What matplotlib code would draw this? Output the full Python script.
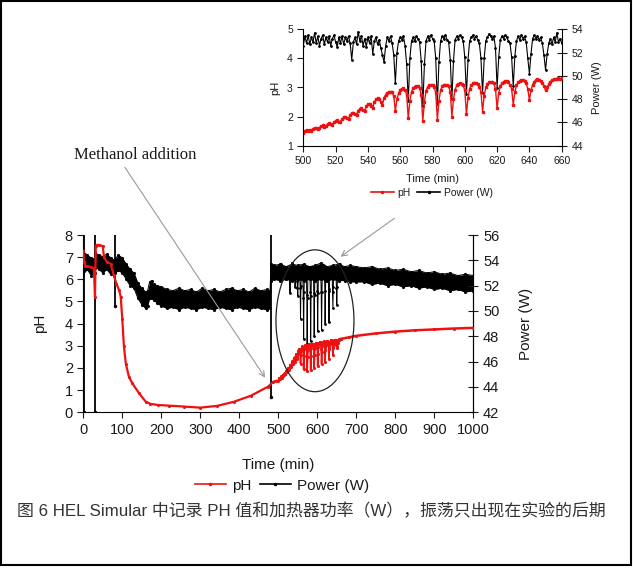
import numpy as np
import matplotlib
matplotlib.use('Agg')
import matplotlib.pyplot as plt
from matplotlib.patches import Ellipse, Rectangle
from matplotlib.lines import Line2D

plt.rcParams['font.family'] = ['Liberation Sans', 'Noto Sans CJK SC', 'DejaVu Sans']

W, H = 633, 568

# ---- whole run: pH (min, pH) ----
ph_t_early = [0, 2, 5, 10, 20, 27, 30, 32, 34, 40, 50, 53, 60, 70, 78, 85, 92, 96,
              100, 104, 109, 117, 126, 143, 160, 172, 192, 220, 257, 300, 343, 387,
              430, 474, 487, 495]
ph_early = [7.3, 6.8, 6.6, 6.6, 6.55, 6.5, 5.2, 7.5, 7.55, 7.55, 7.5, 7.0, 6.8, 6.7,
            6.2, 5.8, 5.5, 5.2, 4.2, 3.0, 2.2, 1.6, 1.3, 0.86, 0.48, 0.38, 0.33, 0.3,
            0.26, 0.21, 0.29, 0.48, 0.75, 1.16, 1.38, 1.42]
ph_t_late = [660, 680, 700, 750, 800, 850, 900, 950, 1000]
ph_late = [3.31, 3.38, 3.45, 3.56, 3.64, 3.7, 3.74, 3.78, 3.81]

# ---- whole run: heater power, min / max of the noisy trace (W) ----
band_t = [0, 10, 20, 29, 31, 40, 50, 60, 70, 79, 81, 90, 100, 110, 120, 130, 140, 150,
          160, 165, 170, 175, 180, 190, 200, 215, 230, 245, 260, 275, 290, 305, 320,
          335, 350, 365, 380, 395, 410, 425, 440, 455, 470, 479, 481, 490, 505, 520,
          535, 550, 565, 580, 595, 610, 625, 640, 655, 670, 685, 700, 720, 740, 760,
          780, 800, 820, 840, 860, 880, 900, 920, 940, 960, 980, 1000]
band_lo = [52.9, 53.3, 52.8, 53.0, 53.4, 53.3, 53.0, 53.3, 52.9, 52.8, 53.0, 53.2, 53.0,
           52.5, 52.0, 51.8, 51.0, 50.5, 50.2, 50.4, 51.0, 51.0, 50.9, 50.6, 50.4, 50.2,
           50.3, 50.1, 50.3, 50.2, 50.1, 50.3, 50.2, 50.1, 50.3, 50.2, 50.1, 50.3, 50.2,
           50.1, 50.3, 50.2, 50.1, 50.2, 52.4, 52.5, 52.4, 52.5, 52.4, 52.5, 52.4, 52.5,
           52.4, 52.5, 52.4, 52.5, 52.4, 52.4, 52.3, 52.3, 52.3, 52.1, 52.2, 52.0, 52.1,
           51.9, 52.0, 51.8, 51.9, 51.7, 51.8, 51.6, 51.7, 51.5, 51.6]
band_hi = [54.7, 54.4, 54.2, 54.1, 54.6, 54.4, 54.3, 54.5, 54.2, 54.0, 54.1, 54.4, 54.2,
           53.7, 53.3, 53.0, 52.2, 51.8, 51.5, 51.6, 52.3, 52.4, 52.1, 52.0, 51.9, 51.7,
           51.6, 51.8, 51.6, 51.7, 51.5, 51.8, 51.6, 51.7, 51.5, 51.7, 51.8, 51.6, 51.7,
           51.5, 51.8, 51.6, 51.7, 51.6, 53.7, 53.6, 53.7, 53.5, 53.7, 53.6, 53.7, 53.5,
           53.6, 53.8, 53.5, 53.6, 53.7, 53.5, 53.6, 53.5, 53.4, 53.5, 53.3, 53.4, 53.2,
           53.3, 53.1, 53.2, 53.0, 53.1, 52.9, 53.0, 52.8, 52.9, 52.8]

# spikes in the power trace (W)
spike_t = [2, 30, 80, 480]
spike_lo = [42, 42, 50.4, 43.2]
spike_hi = [56, 56, 56, 56]

# ---- zoomed window 500-660 min ----
zoom_t = np.arange(500, 661)
zoom_ph = [1.42, 1.5, 1.55, 1.52, 1.55, 1.52, 1.58, 1.62, 1.6, 1.57,
           1.62, 1.68, 1.7, 1.65, 1.68, 1.74, 1.78, 1.74, 1.72, 1.8,
           1.86, 1.88, 1.83, 1.82, 1.92, 1.98, 2.0, 1.95, 1.92, 2.05,
           2.12, 2.14, 2.08, 2.04, 2.2, 2.27, 2.3, 2.22, 2.18, 2.35,
           2.43, 2.45, 2.37, 2.28, 2.5, 2.6, 2.63, 2.6, 2.5, 2.4,
           2.65, 2.75, 2.82, 2.85, 2.86, 2.83, 2.7, 2.2, 2.6, 2.8,
           2.92, 2.96, 2.97, 2.93, 2.75, 1.94, 2.55, 2.85, 2.98, 3.03,
           3.05, 3.04, 2.98, 2.75, 1.86, 2.5, 2.88, 3.02, 3.07, 3.09,
           3.08, 3.03, 2.82, 1.9, 2.55, 2.9, 3.04, 3.09, 3.1, 3.09,
           3.04, 2.85, 2.0, 2.6, 2.93, 3.07, 3.12, 3.14, 3.13, 3.08,
           2.9, 2.08, 2.65, 2.95, 3.09, 3.14, 3.17, 3.16, 3.12, 3.02,
           2.85, 2.17, 2.72, 3.0, 3.12, 3.18, 3.2, 3.19, 3.14, 2.95,
           2.28, 2.8, 3.04, 3.15, 3.2, 3.22, 3.21, 3.18, 3.1, 2.95,
           2.4, 2.85, 3.07, 3.18, 3.23, 3.26, 3.25, 3.22, 3.14, 2.95,
           2.57, 2.9, 3.1, 3.2, 3.25, 3.28, 3.27, 3.24, 3.17, 3.05,
           2.9, 3.0, 3.12, 3.2, 3.25, 3.28, 3.29, 3.3, 3.31, 3.3,
           3.31]
zoom_power = [52.6, 53.4, 52.8, 53.5, 52.7, 53.3, 52.9, 53.7, 52.8, 53.4,
              52.6, 53.2, 53.5, 52.7, 53.3, 52.9, 53.4, 52.6, 53.2, 53.5,
              52.9, 52.5, 53.3, 52.8, 53.4, 52.7, 53.3, 53.0, 53.4, 52.8,
              51.4, 52.9, 53.3, 52.7, 53.8, 53.0, 53.4, 52.6, 53.2, 52.5,
              53.3, 52.8, 53.4, 51.9, 53.0, 53.3, 52.7, 53.1, 52.4, 51.8,
              51.2, 52.6, 53.3, 53.0, 53.4, 52.8, 51.8, 49.4, 52.0, 53.0,
              53.3, 53.1, 53.4, 52.6, 51.0, 47.8, 51.5, 53.0, 53.3, 53.0,
              53.4, 53.2, 52.9, 51.3, 47.4, 51.0, 53.0, 53.4, 53.1, 53.5,
              53.2, 53.0, 51.5, 47.6, 51.2, 53.0, 53.4, 53.2, 53.5, 53.1,
              52.9, 51.4, 48.0, 51.3, 53.1, 53.4, 53.2, 53.5, 53.3, 53.0,
              51.6, 48.4, 51.4, 53.0, 53.3, 53.5, 53.2, 53.4, 53.1, 52.8,
              51.5, 48.5, 51.5, 53.0, 53.3, 53.6, 53.4, 53.2, 53.4, 52.4,
              49.0, 51.6, 53.1, 53.4, 53.2, 53.5, 53.3, 53.0, 52.8, 51.6,
              49.1, 51.7, 53.0, 53.4, 53.1, 53.5, 53.2, 53.4, 52.9, 51.5,
              50.2, 51.9, 53.2, 53.5, 53.2, 53.4, 53.1, 53.3, 52.8, 51.8,
              50.5, 51.9, 52.8, 53.2, 52.7, 53.3, 52.9, 53.7, 52.9, 53.2,
              52.8]

RED = '#ee1111'
TXT = '#1a1a1a'

fig = plt.figure(figsize=(W / 100, H / 100), dpi=100)
fig.patch.set_facecolor('white')


def px(x0, y0, x1, y1):
    # rectangle given in image pixels (top-left origin) -> figure fraction
    return [x0 / W, 1 - y1 / H, (x1 - x0) / W, (y1 - y0) / H]


def style(ax, ax2, size):
    ax.spines['top'].set_visible(False)
    ax2.spines['top'].set_visible(False)
    ax2.spines['left'].set_visible(False)
    ax2.spines['bottom'].set_visible(False)
    ax.tick_params(direction='out', length=4, width=0.8, labelsize=size, colors=TXT)
    ax2.tick_params(direction='inout', length=7, width=0.8, labelsize=size, colors=TXT)


# ---------------- main chart ----------------
ax = fig.add_axes(px(83.3, 235, 473.3, 412.3))
ax2 = ax.twinx()

ax2.fill_between(band_t, band_lo, band_hi, color='black', lw=0)
ax2.plot(band_t, band_lo, color='black', marker='.', ms=2.5, lw=0.7)
ax2.plot(band_t, band_hi, color='black', marker='.', ms=2.5, lw=0.7)
ax2.vlines(spike_t, spike_lo, spike_hi, color='black', lw=1.3)
ax2.plot(spike_t, spike_lo, 'k.', ms=3)
ax2.plot(zoom_t, zoom_power, color='black', marker='.', ms=2, lw=0.7)

ax.plot(ph_t_early, ph_early, color=RED, marker='.', ms=2.5, lw=1.6, zorder=3)
ax.plot(zoom_t, zoom_ph, color=RED, marker='.', ms=2.5, lw=1.2, zorder=3)
ax.plot(ph_t_late, ph_late, color=RED, marker='.', ms=2.5, lw=1.8, zorder=3)
ax.set_zorder(ax2.get_zorder() + 1)
ax.patch.set_visible(False)

ax.set_xlim(0, 1000)
ax.set_ylim(0, 8)
ax2.set_ylim(42, 56)
ax.set_xticks(range(0, 1001, 100))
ax.set_yticks(range(0, 9))
ax2.set_yticks(range(42, 57, 2))
style(ax, ax2, 10.5)
ax.set_xlabel('Time (min)', fontsize=11, color=TXT)
ax.xaxis.set_label_coords(0.5, -0.258)
ax.set_ylabel('pH', fontsize=11, color=TXT)
ax.yaxis.set_label_coords(-0.093, 0.5)
ax2.set_ylabel('Power (W)', fontsize=11, color=TXT)
ax2.yaxis.set_label_coords(1.117, 0.5)

ax.add_patch(Ellipse((594, 4.13), 200, 6.4, fill=False, ec='#222222', lw=0.9, zorder=5))

# ---------------- inset ----------------
ai = fig.add_axes(px(303.3, 29.3, 561.7, 145.7))
ai2 = ai.twinx()
ai2.plot(zoom_t, zoom_power, color='black', marker='.', ms=2, lw=0.8)
ai.plot(zoom_t, zoom_ph, color=RED, marker='s', ms=1.6, lw=1.0)
ai.set_zorder(ai2.get_zorder() + 1)
ai.patch.set_visible(False)
ai.set_xlim(500, 660)
ai.set_ylim(1, 5)
ai2.set_ylim(44, 54)
ai.set_xticks(range(500, 661, 20))
ai.set_yticks(range(1, 6))
ai2.set_yticks(range(44, 55, 2))
style(ai, ai2, 7.5)
ai.spines['right'].set_visible(False)
ai.set_xlabel('Time (min)', fontsize=8, color=TXT)
ai.xaxis.set_label_coords(0.5, -0.243)
ai.set_ylabel('pH', fontsize=8, color=TXT)
ai.yaxis.set_label_coords(-0.09, 0.5)
ai2.set_ylabel('Power (W)', fontsize=8, color=TXT)
ai2.yaxis.set_label_coords(1.117, 0.5)

# ---------------- legends ----------------
handles = [Line2D([], [], color=RED, marker='.', ms=3, lw=1.2),
           Line2D([], [], color='black', marker='.', ms=3, lw=1.2)]
fig.legend(handles, ['pH', 'Power (W)'], loc='center', bbox_to_anchor=(282 / W, 1 - 485.7 / H),
           ncol=2, frameon=False, fontsize=11, handlelength=2.0, handletextpad=0.4,
           columnspacing=0.6, labelcolor=TXT)
fig.legend(handles, ['pH', 'Power (W)'], loc='center', bbox_to_anchor=(432 / W, 1 - 192.7 / H),
           ncol=2, frameon=False, fontsize=7.5, handlelength=2.2, handletextpad=0.4,
           columnspacing=0.6, labelcolor=TXT)

# ---------------- annotations ----------------
fig.text(135.5 / W, 1 - 155 / H, 'Methanol addition', family='Liberation Serif',
         fontsize=12, ha='center', va='center', color=TXT)
ax.annotate('', xy=(266.7, H - 380), xycoords='figure pixels',
            xytext=(123.3, H - 165), textcoords='figure pixels',
            arrowprops=dict(arrowstyle='->', color='#999999', lw=0.8))
ax.annotate('', xy=(338.3, H - 258.3), xycoords='figure pixels',
            xytext=(396.7, H - 216.7), textcoords='figure pixels',
            arrowprops=dict(arrowstyle='->', color='#999999', lw=0.8))

fig.text(17 / W, 1 - 511 / H,
         '图 6 HEL Simular 中记录 PH 值和加热器功率（W），振荡只出现在实验的后期',
         fontsize=12.2, ha='left', va='center', color='#333333')

fig.patches.append(Rectangle((0.75 / W, 3 / H), 630 / W, 564 / H, transform=fig.transFigure,
                             fill=False, ec='black', lw=1.5))

fig.savefig('out.png', dpi=100)
